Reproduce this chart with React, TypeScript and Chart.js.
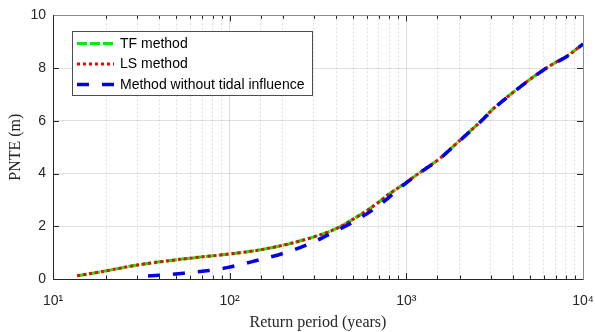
import React, { useEffect, useRef } from 'react';
import { Chart, registerables } from 'chart.js';

Chart.register(...registerables);

// Return periods (years) and PNTE (m)
const returnPeriodTF = [13.7, 20, 30, 50, 70, 100, 135, 200, 300, 400, 500, 600, 700, 800, 920, 1000, 1200, 1550, 2000, 2600, 3100, 4000, 5000, 5900, 7100, 8100, 10000];
const pnteTF = [0.12, 0.31, 0.53, 0.73, 0.84, 0.95, 1.06, 1.28, 1.6, 1.91, 2.27, 2.6, 2.92, 3.23, 3.5, 3.67, 4.05, 4.58, 5.25, 5.94, 6.45, 7.07, 7.57, 7.91, 8.24, 8.45, 8.92];
const pnteLS = [0.12, 0.31, 0.53, 0.73, 0.84, 0.95, 1.06, 1.28, 1.6, 1.91, 2.27, 2.6, 2.92, 3.23, 3.5, 3.67, 4.05, 4.58, 5.25, 5.94, 6.45, 7.07, 7.57, 7.91, 8.24, 8.45, 8.92];
const returnPeriodNoTide = [34.5, 53, 74, 98, 140, 200, 280, 380, 520, 700, 900, 1000, 1200, 1550, 2000, 2600, 3100, 4000, 5000, 5900, 7100, 8100, 10000];
const pnteNoTide = [0.11, 0.21, 0.31, 0.44, 0.69, 0.97, 1.32, 1.75, 2.23, 2.79, 3.4, 3.65, 4.04, 4.57, 5.24, 5.93, 6.44, 7.06, 7.56, 7.9, 8.23, 8.44, 8.91];

const seriesNames = ['TF method', 'LS method', 'Method without tidal influence'];
const xTickLabels: Record<number, string> = { 10: '10\u00B9', 100: '10\u00B2', 1000: '10\u00B3', 10000: '10\u2074' };
const yTickValues = [0, 2, 4, 6, 8, 10];
const xAxisTitle = 'Return period (years)';
const yAxisTitle = 'PNTE (m)';

const SANS = "'Liberation Sans', Arial, sans-serif";
const SERIF = "'Liberation Serif', 'Times New Roman', serif";
const AXIS_COLOR = '#262626';

const isPow10 = (v: number) => Math.abs(Math.log10(v) - Math.round(Math.log10(v))) < 1e-9;

const frameAndTicksPlugin = {
  id: 'frameAndTicks',
  afterDatasetsDraw(chart: any) {
    const { ctx, chartArea: a, scales } = chart;
    const xs = scales.x;
    const ys = scales.y;
    ctx.save();
    ctx.lineWidth = 1;
    ctx.strokeStyle = AXIS_COLOR;
    ctx.beginPath();
    xs.ticks.forEach((t: any) => {
      const px = Math.round(xs.getPixelForValue(t.value)) + 0.5;
      const len = isPow10(t.value) ? 6 : 3.5;
      ctx.moveTo(px, a.bottom);
      ctx.lineTo(px, a.bottom - len);
      ctx.moveTo(px, a.top);
      ctx.lineTo(px, a.top + len);
    });
    ys.ticks.forEach((t: any) => {
      const py = Math.round(ys.getPixelForValue(t.value)) + 0.5;
      ctx.moveTo(a.left, py);
      ctx.lineTo(a.left + 6, py);
      ctx.moveTo(a.right, py);
      ctx.lineTo(a.right - 6, py);
    });
    ctx.stroke();
    const l = Math.round(a.left) + 0.5;
    const r = Math.round(a.right) + 0.5;
    const t = Math.round(a.top) + 0.5;
    const b = Math.round(a.bottom) + 0.5;
    ctx.strokeStyle = '#8c8c8c';
    ctx.beginPath();
    ctx.moveTo(l, t);
    ctx.lineTo(r, t);
    ctx.lineTo(r, b);
    ctx.stroke();
    ctx.strokeStyle = AXIS_COLOR;
    ctx.beginPath();
    ctx.moveTo(l, t);
    ctx.lineTo(l, b);
    ctx.lineTo(r, b);
    ctx.stroke();
    ctx.restore();
  },
};

const boxLegendPlugin = {
  id: 'boxLegend',
  afterDraw(chart: any) {
    const { ctx } = chart;
    const x0 = 72.5, y0 = 31.5, w = 240, h = 64;
    ctx.save();
    ctx.fillStyle = '#ffffff';
    ctx.fillRect(x0, y0, w, h);
    ctx.strokeStyle = '#4d4d4d';
    ctx.lineWidth = 1;
    ctx.strokeRect(x0, y0, w, h);
    const rows = [43.5, 64, 84.5];
    chart.data.datasets.forEach((ds: any, i: number) => {
      const y = rows[i];
      ctx.beginPath();
      ctx.strokeStyle = ds.borderColor;
      ctx.lineWidth = ds.borderWidth;
      ctx.setLineDash(ds.borderDash || []);
      ctx.lineCap = 'butt';
      ctx.moveTo(77, y);
      ctx.lineTo(114, y);
      ctx.stroke();
      ctx.setLineDash([]);
      ctx.fillStyle = '#000000';
      ctx.font = `14px ${SANS}`;
      ctx.textBaseline = 'middle';
      ctx.textAlign = 'left';
      ctx.fillText(ds.label, 120, y + 0.5);
    });
    ctx.restore();
  },
};

export default function App() {
  const canvasRef = useRef<HTMLCanvasElement | null>(null);

  useEffect(() => {
    document.body.style.margin = '0';
    const canvas = canvasRef.current;
    if (!canvas) return;
    const toPts = (xs: number[], ys: number[]) => xs.map((x, i) => ({ x, y: ys[i] }));
    const chart = new Chart(canvas, {
      type: 'line',
      data: {
        datasets: [
          {
            label: seriesNames[0],
            data: toPts(returnPeriodTF, pnteTF),
            borderColor: '#00ee00',
            borderWidth: 3,
            borderDash: [10, 3],
            pointRadius: 0,
            cubicInterpolationMode: 'monotone',
            order: 2,
          },
          {
            label: seriesNames[1],
            data: toPts(returnPeriodTF, pnteLS),
            borderColor: '#ff0000',
            borderWidth: 3,
            borderDash: [3, 3],
            pointRadius: 0,
            cubicInterpolationMode: 'monotone',
            order: 1,
          },
          {
            label: seriesNames[2],
            data: toPts(returnPeriodNoTide, pnteNoTide),
            borderColor: '#0000ee',
            borderWidth: 3.5,
            borderDash: [12, 13],
            pointRadius: 0,
            cubicInterpolationMode: 'monotone',
            order: 0,
          },
        ],
      },
      options: {
        responsive: false,
        devicePixelRatio: 1,
        animation: false,
        events: [],
        layout: { padding: { top: 14, right: 0, left: 0, bottom: 0 } },
        plugins: {
          legend: { display: false },
          tooltip: { enabled: false },
        },
        scales: {
          x: {
            type: 'logarithmic',
            min: 10,
            max: 10000,
            afterFit: (s: any) => {
              s.height = 53;
              s.paddingRight = 12;
              s.paddingLeft = 0;
            },
            grid: {
              color: 'rgba(0,0,0,0.13)',
              lineWidth: 1,
              drawTicks: false,
            },
            border: {
              display: false,
              dash: (c: any) => (c.tick && isPow10(c.tick.value) ? [] : [2, 2]),
            },
            ticks: {
              autoSkip: false,
              maxRotation: 0,
              minRotation: 0,
              padding: 14,
              color: AXIS_COLOR,
              font: { family: SANS, size: 14 },
              callback: (v: any) => xTickLabels[Math.round(Number(v))] ?? '',
            },
            title: {
              display: true,
              text: xAxisTitle,
              color: AXIS_COLOR,
              font: { family: SERIF, size: 16 },
              padding: { top: 0, bottom: 0 },
            },
          },
          y: {
            type: 'linear',
            min: 0,
            max: 10,
            afterFit: (s: any) => { s.width = 53; },
            afterBuildTicks: (s: any) => { s.ticks = yTickValues.map((v) => ({ value: v })); },
            grid: { color: 'rgba(0,0,0,0.12)', lineWidth: 1, drawTicks: false },
            border: { display: false },
            ticks: {
              padding: 7,
              color: AXIS_COLOR,
              font: { family: SANS, size: 14 },
              callback: (v: any) => String(v),
            },
            title: {
              display: true,
              text: yAxisTitle,
              color: AXIS_COLOR,
              font: { family: SERIF, size: 16 },
              padding: { top: 6, bottom: 0 },
            },
          },
        },
      },
      plugins: [frameAndTicksPlugin, boxLegendPlugin],
    } as any);
    return () => chart.destroy();
  }, []);

  return (
    <div style={{ width: 595, height: 332 }}>
      <canvas ref={canvasRef} width={595} height={332} style={{ display: 'block' }} />
    </div>
  );
}
